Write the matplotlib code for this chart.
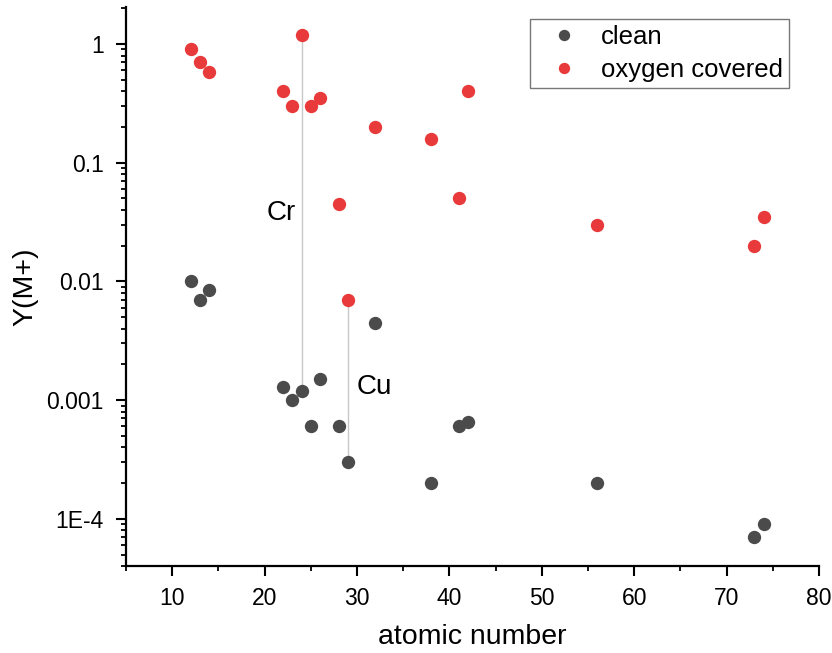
import matplotlib
matplotlib.use("Agg")
import matplotlib.pyplot as plt
from matplotlib.ticker import LogLocator, FixedLocator, MultipleLocator, FixedFormatter

plt.rcParams['font.family'] = ['Liberation Sans', 'DejaVu Sans']

# Atomic numbers of the measured elements
atomic_number = [12, 13, 14, 22, 23, 24, 25, 26, 28, 29, 32, 38, 41, 42, 56, 73, 74]

# Secondary ion yield Y(M+) for clean surfaces
yield_clean = [0.010, 0.0070, 0.0085, 0.0013, 0.0010, 0.0012, 0.0006, 0.0015,
               0.0006, 0.0003, 0.0045, 0.0002, 0.0006, 0.00065, 0.0002, 7.0e-5, 9.0e-5]

# Secondary ion yield Y(M+) for oxygen covered surfaces
yield_oxygen = [0.90, 0.70, 0.58, 0.40, 0.30, 1.2, 0.30, 0.35,
                0.045, 0.0070, 0.20, 0.16, 0.050, 0.40, 0.030, 0.020, 0.035]

# Elements highlighted with a connecting line
highlight_names = ["Cr", "Cu"]
highlight_z = [24, 29]
highlight_label_pos = [(21.8, 0.038), (31.9, 0.0013)]

y_ticks = [1e-4, 1e-3, 1e-2, 1e-1, 1]
y_tick_labels = ["1E-4", "0.001", "0.01", "0.1", "1"]
x_ticks = [10, 20, 30, 40, 50, 60, 70, 80]

clean_color = "#4b4b4b"
oxygen_color = "#e83a3a"

fig = plt.figure(figsize=(8.32, 6.53), dpi=100)
ax = fig.add_axes([0.1514, 0.1332, 0.8330, 0.8560])

# Vertical guide lines between clean and oxygen covered yields
for z in highlight_z:
    i = atomic_number.index(z)
    ax.plot([z, z], [yield_clean[i], yield_oxygen[i]], color="#c8c8c8",
            lw=1.0, zorder=1)

ax.plot(atomic_number, yield_clean, 'o', color=clean_color, ms=9.6,
        mec='none', label="clean", zorder=3)
ax.plot(atomic_number, yield_oxygen, 'o', color=oxygen_color, ms=9.6,
        mec='none', label="oxygen covered", zorder=3)

for name, (tx, ty) in zip(highlight_names, highlight_label_pos):
    ax.text(tx, ty, name, fontsize=20, ha='center', va='center')

ax.set_yscale('log')
ax.set_xlim(5, 80)
ax.set_ylim(4.0e-5, 2.05)

ax.yaxis.set_major_locator(FixedLocator(y_ticks))
ax.yaxis.set_major_formatter(FixedFormatter(y_tick_labels))
ax.yaxis.set_minor_locator(LogLocator(base=10, subs=range(2, 10), numticks=20))
ax.yaxis.set_minor_formatter(plt.NullFormatter())
ax.xaxis.set_major_locator(FixedLocator(x_ticks))
ax.xaxis.set_minor_locator(MultipleLocator(5))

for side in ('top', 'right'):
    ax.spines[side].set_visible(False)
for side in ('left', 'bottom'):
    ax.spines[side].set_linewidth(1.6)

ax.tick_params(which='major', direction='out', length=7, width=1.5,
               labelsize=16.5)
ax.tick_params(axis='x', which='major', pad=8)
ax.tick_params(axis='y', which='major', pad=9)
ax.tick_params(which='minor', direction='out', length=3.8, width=1.3)

ax.set_xlabel("atomic number", fontsize=20.5, labelpad=10)
ax.set_ylabel("Y(M+)", fontsize=20.5, labelpad=6)

leg = ax.legend(loc='upper right', bbox_to_anchor=(0.957, 0.979),
                fontsize=18.5, frameon=True, fancybox=False, markerscale=0.85,
                handletextpad=0.4, borderpad=0.25, labelspacing=0.33,
                handlelength=2.1, borderaxespad=0)
leg.get_frame().set_edgecolor("#555555")
leg.get_frame().set_linewidth(1.0)

fig.savefig("out.png", dpi=100)
